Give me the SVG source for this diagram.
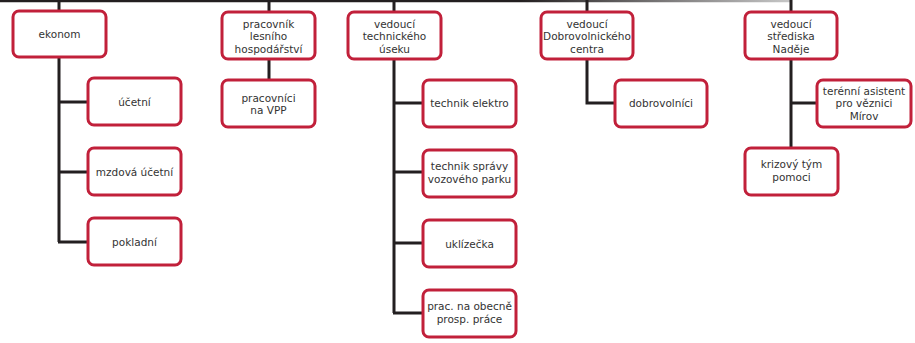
<svg xmlns="http://www.w3.org/2000/svg" width="915" height="343" viewBox="0 0 915 343">
<style>
.box{fill:#fff;stroke:#c1203a;stroke-width:3}
.t{font-family:"DejaVu Sans",Verdana,sans-serif;font-size:10.5px;fill:#333;text-anchor:middle}
.c{fill:none;stroke:#231f20;stroke-width:3}
</style>
<defs>
<linearGradient id="fade" gradientUnits="userSpaceOnUse" x1="520" y1="0" x2="792" y2="0">
<stop offset="0" stop-color="#231f20"/>
<stop offset="1" stop-color="#c8c8c8"/>
</linearGradient>
</defs>
<g id="connectors">
<line x1="0" y1="1" x2="792" y2="1" stroke="url(#fade)" stroke-width="2.5"/>
<path class="c" d="M59 0V11M59 57V242M58 102H88M58 172H88M58 242H88"/>
<path class="c" d="M269 0V12M269 59V80"/>
<path class="c" d="M394 0V12M394 59V313M393 103H423M393 172H423M393 243H423M393 313H423"/>
<path class="c" d="M587 0V12M587 59V103H615"/>
<path class="c" d="M791 0V12M791 59V148M790 103H817"/>
</g>
<g id="ekonom"><rect class="box" x="13" y="11" width="93" height="46" rx="6"/><text class="t" x="59.5" y="38">ekonom</text></g>
<g id="ucetni"><rect class="box" x="88" y="78" width="93" height="47" rx="6"/><text class="t" x="134.5" y="105.5">účetní</text></g>
<g id="mzdova"><rect class="box" x="88" y="148" width="93" height="47" rx="6"/><text class="t" x="134.5" y="175.5">mzdová účetní</text></g>
<g id="pokladni"><rect class="box" x="88" y="218" width="93" height="47" rx="6"/><text class="t" x="134.5" y="245.5">pokladní</text></g>
<g id="lesni"><rect class="box" x="222" y="12" width="93" height="47" rx="6"/><text class="t" x="268.5" y="27.5">pracovník<tspan x="268.5" dy="12.5">lesního</tspan><tspan x="268.5" dy="12.5">hospodářství</tspan></text></g>
<g id="vpp"><rect class="box" x="222" y="80" width="93" height="47" rx="6"/><text class="t" x="268.5" y="101.5">pracovníci<tspan x="268.5" dy="12.5">na VPP</tspan></text></g>
<g id="technicky"><rect class="box" x="348" y="12" width="93" height="47" rx="6"/><text class="t" x="394.5" y="27.5">vedoucí<tspan x="394.5" dy="12.5">technického</tspan><tspan x="394.5" dy="12.5">úseku</tspan></text></g>
<g id="elektro"><rect class="box" x="423" y="80" width="93" height="47" rx="6"/><text class="t" x="469.5" y="107">technik elektro</text></g>
<g id="vozovy"><rect class="box" x="423" y="150" width="93" height="47" rx="6"/><text class="t" x="469.5" y="170">technik správy<tspan x="469.5" dy="12.5">vozového parku</tspan></text></g>
<g id="uklizecka"><rect class="box" x="423" y="220" width="93" height="47" rx="6"/><text class="t" x="469.5" y="247.5">uklízečka</text></g>
<g id="obecne"><rect class="box" x="423" y="290" width="93" height="47" rx="6"/><text class="t" x="469.5" y="310">prac. na obecně<tspan x="469.5" dy="12.5">prosp. práce</tspan></text></g>
<g id="dobrovolnicke"><rect class="box" x="541" y="12" width="92" height="47" rx="6"/><text class="t" x="587" y="27.5">vedoucí<tspan x="587" dy="12.5">Dobrovolnického</tspan><tspan x="587" dy="12.5">centra</tspan></text></g>
<g id="dobrovolnici"><rect class="box" x="615" y="80" width="92" height="47" rx="6"/><text class="t" x="661" y="107">dobrovolníci</text></g>
<g id="nadeje"><rect class="box" x="745" y="12" width="92" height="47" rx="6"/><text class="t" x="791" y="27.5">vedoucí<tspan x="791" dy="12.5">střediska</tspan><tspan x="791" dy="12.5">Naděje</tspan></text></g>
<g id="terenni"><rect class="box" x="817" y="80" width="94" height="47" rx="6"/><text class="t" x="864" y="94.5">terénní asistent<tspan x="864" dy="12.5">pro věznici</tspan><tspan x="864" dy="12.5">Mírov</tspan></text></g>
<g id="krizovy"><rect class="box" x="745" y="148" width="93" height="47" rx="6"/><text class="t" x="791.5" y="168">krizový tým<tspan x="791.5" dy="12.5">pomoci</tspan></text></g>
</svg>
